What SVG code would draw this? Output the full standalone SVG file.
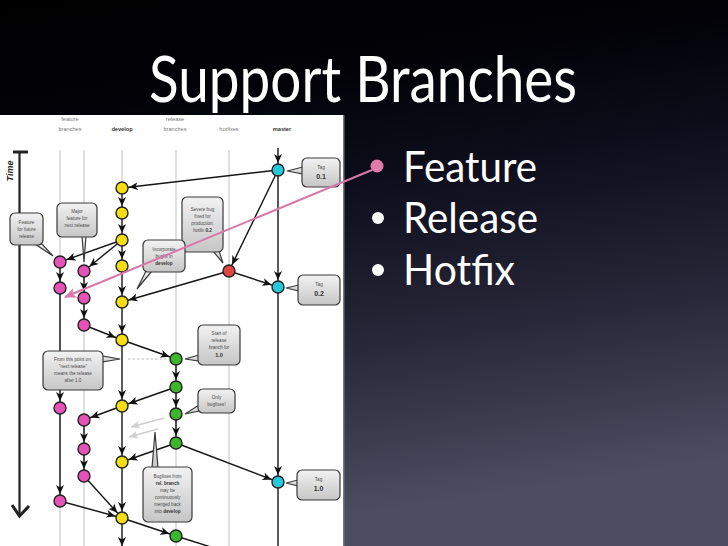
<svg xmlns="http://www.w3.org/2000/svg" width="728" height="546" viewBox="0 0 728 546">
<defs>
<linearGradient id="bg" x1="0" y1="0" x2="0.2" y2="1">
<stop offset="0" stop-color="#000000"/>
<stop offset="0.22" stop-color="#020208"/>
<stop offset="0.45" stop-color="#10101f"/>
<stop offset="0.7" stop-color="#272739"/>
<stop offset="1" stop-color="#4d4c60"/>
</linearGradient>
<linearGradient id="cg" x1="0" y1="0" x2="0" y2="1">
<stop offset="0" stop-color="#f2f2f2"/>
<stop offset="1" stop-color="#c6c6c6"/>
</linearGradient>
<marker id="ah" markerUnits="userSpaceOnUse" markerWidth="9" markerHeight="8" viewBox="0 0 9 8" refX="16" refY="4" orient="auto">
<path d="M0,0 L9,4 L0,8 L2.5,4 z" fill="#111"/>
</marker>
<marker id="ahg" markerUnits="userSpaceOnUse" markerWidth="9" markerHeight="8" viewBox="0 0 9 8" refX="9" refY="4" orient="auto">
<path d="M0,0 L9,4 L0,8 L2.5,4 z" fill="#cfcfcf"/>
</marker>
<marker id="ahp" markerUnits="userSpaceOnUse" markerWidth="12" markerHeight="10" viewBox="0 0 12 10" refX="11" refY="5" orient="auto">
<path d="M0,0 L12,5 L0,10 L3,5 z" fill="#d977a8"/>
</marker>
<style>
.lane{stroke:#d4d4d4;stroke-width:1.5}
.c{stroke:#151515;stroke-width:1.4;fill:none;marker-end:url(#ah)}
.p{stroke:#151515;stroke-width:1.4;fill:none}
.g{stroke:#cfcfcf;stroke-width:1.6;fill:none;marker-end:url(#ahg)}
.n{stroke:#222;stroke-width:1.4}
.y{fill:#f4de12}.k{fill:#e653b8}.gr{fill:#3db52c}.r{fill:#e34545}.cy{fill:#25c9dc}
.box{fill:url(#cg);stroke:#3a3a3a;stroke-width:1.2}
.ct{font-family:"Liberation Sans",Arial,sans-serif;font-size:4.6px;fill:#4a4a4a;text-anchor:middle}
.cb{font-weight:bold;fill:#333}
.hd{font-family:"Liberation Sans",Arial,sans-serif;font-size:5.6px;fill:#777;text-anchor:middle}
.slide{font-family:Lato,"Open Sans",sans-serif;fill:#ffffff}
</style>
</defs>
<rect x="0" y="0" width="728" height="546" fill="url(#bg)"/>
<rect x="0" y="115" width="343" height="431" fill="#ffffff"/>
<rect x="343" y="115" width="1.5" height="431" fill="#777"/>

<g id="headers">
<text class="hd" x="70" y="121">feature</text>
<text class="hd" x="70" y="131">branches</text>
<text class="hd" x="122" y="131" style="font-weight:bold;fill:#333">develop</text>
<text class="hd" x="175" y="121">release</text>
<text class="hd" x="175" y="131">branches</text>
<text class="hd" x="229" y="131">hotfixes</text>
<text class="hd" x="282" y="131" style="font-weight:bold;fill:#333">master</text>
</g>

<g id="time">
<line x1="13" y1="152" x2="28" y2="152" stroke="#222" stroke-width="3"/>
<line x1="19.5" y1="152" x2="19.5" y2="516" stroke="#222" stroke-width="2.2"/>
<polyline points="12,505 19.5,516 29,506" fill="none" stroke="#222" stroke-width="3"/>
<text x="13" y="171" transform="rotate(-90 13 171)" text-anchor="middle" style="font-family:'Liberation Sans',Arial,sans-serif;font-size:9px;font-weight:bold;font-style:italic;fill:#222">Time</text>
</g>

<g id="lanes">
<line class="lane" x1="60" y1="150" x2="60" y2="546"/>
<line class="lane" x1="84" y1="150" x2="84" y2="546"/>
<line class="lane" x1="122" y1="150" x2="122" y2="188"/>
<line class="lane" x1="176" y1="150" x2="176" y2="546"/>
<line class="lane" x1="229" y1="150" x2="229" y2="546"/>
</g>

<g id="connectors">
<line class="c" x1="278" y1="148" x2="278" y2="170"/>
<line class="c" x1="278" y1="170" x2="122" y2="188"/>
<line class="c" x1="278" y1="170" x2="229" y2="271"/>
<line class="c" x1="278" y1="170" x2="278" y2="287"/>
<line class="c" x1="229" y1="271" x2="278" y2="287"/>
<line class="c" x1="229" y1="271" x2="122" y2="302"/>
<line class="c" x1="122" y1="188" x2="122" y2="213"/>
<line class="c" x1="122" y1="213" x2="122" y2="240"/>
<line class="c" x1="122" y1="240" x2="122" y2="266"/>
<line class="c" x1="122" y1="266" x2="122" y2="302"/>
<line class="c" x1="122" y1="302" x2="122" y2="340"/>
<line class="c" x1="122" y1="340" x2="122" y2="406"/>
<line class="c" x1="122" y1="406" x2="122" y2="462"/>
<line class="c" x1="122" y1="462" x2="122" y2="518"/>
<line class="c" x1="122" y1="518" x2="122" y2="553"/>
<line class="c" x1="122" y1="240" x2="60" y2="262"/>
<line class="c" x1="122" y1="240" x2="84" y2="271"/>
<line class="c" x1="60" y1="262" x2="60" y2="288"/>
<line class="c" x1="60" y1="288" x2="60" y2="408"/>
<line class="c" x1="60" y1="408" x2="60" y2="501"/>
<line class="c" x1="84" y1="271" x2="84" y2="298"/>
<line class="c" x1="84" y1="298" x2="84" y2="325"/>
<line class="c" x1="84" y1="325" x2="122" y2="340"/>
<line class="c" x1="122" y1="340" x2="176" y2="359"/>
<line class="c" x1="176" y1="359" x2="176" y2="387"/>
<line class="c" x1="176" y1="387" x2="176" y2="414"/>
<line class="c" x1="176" y1="414" x2="176" y2="443"/>
<line class="c" x1="176" y1="387" x2="122" y2="406"/>
<line class="c" x1="122" y1="406" x2="84" y2="420"/>
<line class="c" x1="84" y1="420" x2="84" y2="449"/>
<line class="c" x1="84" y1="449" x2="84" y2="476"/>
<line class="c" x1="176" y1="443" x2="122" y2="462"/>
<line class="c" x1="176" y1="443" x2="278" y2="482"/>
<line class="c" x1="278" y1="287" x2="278" y2="482"/>
<line class="p" x1="278" y1="482" x2="278" y2="546"/>
<line class="c" x1="84" y1="476" x2="122" y2="518"/>
<line class="c" x1="60" y1="501" x2="122" y2="518"/>
<line class="c" x1="122" y1="518" x2="176" y2="536"/>
<line class="p" x1="176" y1="536" x2="214" y2="548"/>
<line class="g" x1="164" y1="418" x2="131" y2="427"/>
<line class="g" x1="158" y1="429" x2="129" y2="437"/>
<line x1="128" y1="359" x2="169" y2="359" stroke="#bdbdbd" stroke-width="1" stroke-dasharray="2.5,2"/>
</g>

<g id="n-master">
<circle class="n cy" cx="278" cy="170" r="6"/>
<circle class="n cy" cx="278" cy="287" r="6"/>
<circle class="n cy" cx="278" cy="482" r="6"/>
</g>
<g id="n-hotfix">
<circle class="n r" cx="229" cy="271" r="6"/>
</g>
<g id="n-develop">
<circle class="n y" cx="122" cy="188" r="6"/>
<circle class="n y" cx="122" cy="213" r="6"/>
<circle class="n y" cx="122" cy="240" r="6"/>
<circle class="n y" cx="122" cy="266" r="6"/>
<circle class="n y" cx="122" cy="302" r="6"/>
<circle class="n y" cx="122" cy="340" r="6"/>
<circle class="n y" cx="122" cy="406" r="6"/>
<circle class="n y" cx="122" cy="462" r="6"/>
<circle class="n y" cx="122" cy="518" r="6"/>
</g>
<g id="n-feature">
<circle class="n k" cx="60" cy="262" r="6"/>
<circle class="n k" cx="60" cy="288" r="6"/>
<circle class="n k" cx="60" cy="408" r="6"/>
<circle class="n k" cx="60" cy="501" r="6"/>
<circle class="n k" cx="84" cy="271" r="6"/>
<circle class="n k" cx="84" cy="298" r="6"/>
<circle class="n k" cx="84" cy="325" r="6"/>
<circle class="n k" cx="84" cy="420" r="6"/>
<circle class="n k" cx="84" cy="449" r="6"/>
<circle class="n k" cx="84" cy="476" r="6"/>
</g>
<g id="n-release">
<circle class="n gr" cx="176" cy="359" r="6"/>
<circle class="n gr" cx="176" cy="387" r="6"/>
<circle class="n gr" cx="176" cy="414" r="6"/>
<circle class="n gr" cx="176" cy="443" r="6"/>
<circle class="n gr" cx="176" cy="536" r="6"/>
</g>

<g id="callout-tag01">
<polygon class="box" points="303,167 287,171 303,174"/>
<rect class="box" x="302" y="158" width="38" height="29" rx="5"/>
<text class="ct" x="321" y="169">Tag</text>
<text class="ct cb" x="321" y="179" style="font-size:7px">0.1</text>
</g>
<g id="callout-major">
<polygon class="box" points="82,236 86,236 84,262"/>
<rect class="box" x="57" y="203" width="40" height="34" rx="5"/>
<text class="ct" x="77" y="213">Major</text>
<text class="ct" x="77" y="220">feature for</text>
<text class="ct" x="77" y="227">next release</text>
</g>
<g id="callout-future">
<polygon class="box" points="35,244 42,244 53,256"/>
<rect class="box" x="10" y="213" width="33" height="32" rx="5"/>
<text class="ct" x="26.5" y="224">Feature</text>
<text class="ct" x="26.5" y="231">for future</text>
<text class="ct" x="26.5" y="238">release</text>
</g>
<g id="callout-severe">
<polygon class="box" points="213,251 219,251 223,263"/>
<rect class="box" x="182" y="197" width="41" height="55" rx="5"/>
<text class="ct" x="202.5" y="211">Severe bug</text>
<text class="ct" x="202.5" y="218">fixed for</text>
<text class="ct" x="202.5" y="225">production:</text>
<text class="ct" x="202.5" y="232">hotfix <tspan class="cb">0.2</tspan></text>
</g>
<g id="callout-incorporate">
<polygon class="box" points="146,271 152,271 137,289"/>
<rect class="box" x="143" y="240" width="42" height="32" rx="5"/>
<text class="ct" x="164" y="251">Incorporate</text>
<text class="ct" x="164" y="258">bugfix in</text>
<text class="ct cb" x="164" y="265">develop</text>
</g>
<g id="callout-tag02">
<polygon class="box" points="299,285 286,288 299,291"/>
<rect class="box" x="298" y="275" width="42" height="30" rx="5"/>
<text class="ct" x="319" y="286">Tag</text>
<text class="ct cb" x="319" y="296" style="font-size:7px">0.2</text>
</g>
<g id="callout-start">
<polygon class="box" points="199,355 199,361 185,359"/>
<rect class="box" x="198" y="325" width="42" height="40" rx="5"/>
<text class="ct" x="219" y="335">Start of</text>
<text class="ct" x="219" y="342">release</text>
<text class="ct" x="219" y="349">branch for</text>
<text class="ct cb" x="219" y="357" style="font-size:5.5px">1.0</text>
</g>
<g id="callout-from">
<polygon class="box" points="102,356 102,362 120,359"/>
<rect class="box" x="43" y="351" width="60" height="39" rx="5"/>
<text class="ct" x="73" y="361">From this point on,</text>
<text class="ct" x="73" y="368">"next release"</text>
<text class="ct" x="73" y="375">means the release</text>
<text class="ct" x="73" y="382">after 1.0</text>
</g>
<g id="callout-only">
<polygon class="box" points="199,405 199,411 185,414"/>
<rect class="box" x="198" y="389" width="37" height="24" rx="5"/>
<text class="ct" x="216.5" y="399">Only</text>
<text class="ct" x="216.5" y="406">bugfixes!</text>
</g>
<g id="callout-bugfixes">
<polygon class="box" points="152,468 158,468 155,432"/>
<rect class="box" x="143" y="467" width="49" height="55" rx="5"/>
<text class="ct" x="167.5" y="478">Bugfixes from</text>
<text class="ct cb" x="167.5" y="485">rel. branch</text>
<text class="ct" x="167.5" y="492">may be</text>
<text class="ct" x="167.5" y="499">continuously</text>
<text class="ct" x="167.5" y="506">merged back</text>
<text class="ct" x="167.5" y="513">into <tspan class="cb">develop</tspan></text>
</g>
<g id="callout-tag10">
<polygon class="box" points="298,480 286,483 298,486"/>
<rect class="box" x="297" y="470" width="43" height="30" rx="5"/>
<text class="ct" x="318.5" y="481">Tag</text>
<text class="ct cb" x="318.5" y="491" style="font-size:7px">1.0</text>
</g>

<g id="slide-text">
<text class="slide" x="149" y="102" font-size="64" textLength="428" lengthAdjust="spacingAndGlyphs">Support Branches</text>
<text class="slide" x="403" y="182" font-size="43" textLength="134" lengthAdjust="spacingAndGlyphs">Feature</text>
<text class="slide" x="403" y="233" font-size="43" textLength="135" lengthAdjust="spacingAndGlyphs">Release</text>
<text class="slide" x="403" y="285" font-size="43" textLength="112" lengthAdjust="spacingAndGlyphs">Hotfix</text>
<circle cx="378" cy="218" r="6" fill="#ffffff"/>
<circle cx="378" cy="270" r="6" fill="#ffffff"/>
</g>

<g id="pink-pointer">
<line x1="372" y1="170" x2="65" y2="297" stroke="#d977a8" stroke-width="2" marker-end="url(#ahp)"/>
<circle cx="377" cy="166" r="6.5" fill="#e07aa9"/>
</g>
</svg>
